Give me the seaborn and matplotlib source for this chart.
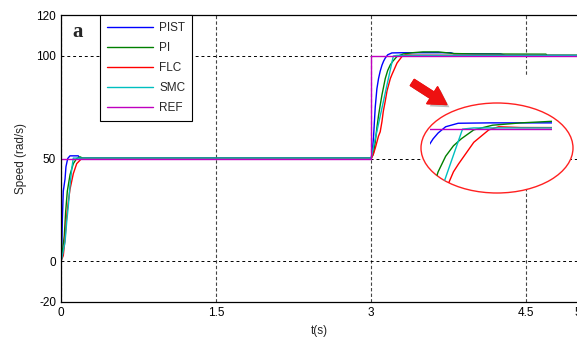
import matplotlib
matplotlib.use("Agg")
import matplotlib.pyplot as plt
import matplotlib.patches as mpatches
import matplotlib.patheffects as pe
from matplotlib.lines import Line2D
import numpy as np
import pandas as pd
import seaborn as sns

# ---------------- data ----------------
series_names = ["PIST", "PI", "FLC", "SMC", "REF"]

pist_t = [0, 0.007, 0.013, 0.022, 0.039, 0.048, 0.065, 0.087, 0.167, 0.18, 3.0,
          3.01, 3.022, 3.039, 3.055, 3.071, 3.087, 3.104, 3.12, 3.136, 3.16, 3.2,
          3.3, 3.77, 3.8, 4.25, 4.3, 5.0]
pist_v = [0, 5, 20, 34, 40, 46, 50, 51.3, 51.3, 50.2, 50.2,
          53, 60, 75, 84, 89, 92.6, 95.5, 97.5, 99, 100.6, 101.5,
          101.6, 101.6, 101.1, 101.0, 100.3, 100.2]

pi_t = [0, 0.013, 0.032, 0.045, 0.061, 0.087, 0.119, 0.152, 0.184, 0.21, 3.0,
        3.02, 3.039, 3.055, 3.071, 3.087, 3.104, 3.12, 3.136, 3.16, 3.185, 3.21,
        3.25, 3.31, 3.4, 3.5, 3.65, 3.8, 4.0, 4.69, 4.7, 5.0]
pi_v = [0, 4.4, 12.4, 24, 34, 42, 47.5, 50, 50.8, 50.2, 50.2,
        52, 58, 65, 71, 76, 81, 85, 89, 93, 95.7, 97.5,
        99.8, 101, 101.6, 102, 102, 101.2, 101.0, 100.9, 100.4, 100.4]

flc_t = [0, 0.022, 0.039, 0.055, 0.071, 0.087, 0.119, 0.152, 0.2, 3.0,
         3.02, 3.039, 3.071, 3.087, 3.104, 3.117, 3.136, 3.153, 3.185, 3.201,
         3.25, 3.298, 3.33, 3.4, 5.0]
flc_v = [0, 2.6, 10.8, 22, 29, 35, 42.6, 47.5, 50, 50,
         52, 55, 61, 63, 68, 73, 78, 83, 89, 91,
         96.6, 99.8, 100.6, 100.4, 100.2]

smc_t = [0, 0.007, 0.039, 0.055, 0.071, 0.087, 0.104, 0.119, 3.0,
         3.019, 3.214, 3.25, 5.0]
smc_v = [0, 1, 9.3, 19, 27, 37, 45, 50.2, 50.2,
         55, 100, 100.3, 100.3]

ref_t = [0, 3.0, 3.0, 5.0]
ref_v = [50, 50, 100, 100]

x_ticks = [0, 1.5, 3, 4.5, 5]
x_tick_labels = ["0", "1.5", "3", "4.5", "5"]
y_ticks = [-20, 0, 50, 100, 120]
y_tick_labels = ["-20", "0", "50", "100", "120"]

colors = {"PIST": (0, 0, 1), "PI": (0, 0.5, 0), "FLC": (1, 0, 0),
          "SMC": (0, 0.75, 0.75), "REF": (0.75, 0, 0.75)}

frames = []
for name, tt, vv in [("PIST", pist_t, pist_v), ("PI", pi_t, pi_v),
                     ("FLC", flc_t, flc_v), ("SMC", smc_t, smc_v),
                     ("REF", ref_t, ref_v)]:
    frames.append(pd.DataFrame({"t": tt, "v": vv, "series": name,
                                "order": np.arange(len(tt))}))
df = pd.concat(frames, ignore_index=True)

# ---------------- style ----------------
sns.set_theme(style="white")
plt.rcParams["font.family"] = ["Liberation Sans", "DejaVu Sans"]

W, H = 577, 338
fig = plt.figure(figsize=(W / 100, H / 100), dpi=100)


def fx(px):
    return px / W


def fy(py):
    return 1 - py / H


ax = fig.add_axes([fx(61), fy(302), fx(517), (302 - 15) / H])
sns.lineplot(data=df, x="t", y="v", hue="series", hue_order=series_names,
             palette=colors, estimator=None, sort=False, units="series",
             legend=False, ax=ax, linewidth=1.0)

ax.set_xlim(0, 5)
ax.set_ylim(-20, 120)
ax.set_xticks(x_ticks)
ax.set_xticklabels(x_tick_labels)
ax.set_yticks(y_ticks)
ax.set_yticklabels(y_tick_labels)
ax.tick_params(direction="in", length=3, width=0.6, labelsize=8.5,
               colors="black", pad=3.5)
ax.set_xlabel("t(s)", fontsize=8.5, labelpad=4.5)
ax.set_ylabel("Speed (rad/s)", fontsize=8.5, labelpad=7)
for s in ["left", "bottom", "top"]:
    ax.spines[s].set_color("black")
    ax.spines[s].set_linewidth(0.9)
ax.spines["right"].set_visible(False)
ax.yaxis.grid(True, color="black", linestyle=(0, (3, 3)), linewidth=0.7)
ax.xaxis.grid(True, color="#444444", linestyle=(0, (3, 2)), linewidth=0.8)
ax.set_axisbelow(True)

handles = [Line2D([0], [0], color=colors[n], lw=1.0) for n in series_names]
leg = ax.legend(handles, series_names, loc="upper left",
                bbox_to_anchor=(39 / 517, 1.0), borderaxespad=0,
                fontsize=8.5, handlelength=3.9, handletextpad=0.5,
                labelspacing=0.68, borderpad=0.6, frameon=True,
                fancybox=False, framealpha=1)
leg.get_frame().set_edgecolor("black")
leg.get_frame().set_linewidth(0.8)

ax.text(fx(78), fy(32), "a", transform=fig.transFigure, ha="center",
        va="center", fontsize=15, fontweight="bold",
        family=["Liberation Serif", "DejaVu Serif"])

# ---------------- zoom ellipse, inset, arrow ----------------
cover = mpatches.Rectangle((fx(500), fy(110)), fx(60), (110 - 76) / H,
                           transform=fig.transFigure, facecolor="white",
                           edgecolor="none", zorder=1)
fig.patches.append(cover)

ellipse = mpatches.Ellipse((fx(497), fy(148)), fx(152), 90 / H,
                           transform=fig.transFigure, facecolor="white",
                           edgecolor="#ff2020", linewidth=1.0, zorder=1.1)
fig.patches.append(ellipse)

axin = fig.add_axes([fx(430), fy(192), fx(122), 80 / H], zorder=2)
axin.set_facecolor("none")
sns.lineplot(data=df, x="t", y="v", hue="series", hue_order=series_names,
             palette=colors, estimator=None, sort=False, units="series",
             legend=False, ax=axin, linewidth=1.0)
axin.set_xlim(3.11, 3.5)
axin.set_ylim(83.8, 104.4)
axin.axis("off")
for ln in axin.get_lines():
    ln.set_clip_path(ellipse)

arrow = mpatches.FancyArrowPatch(
    (fx(410), fy(81)), (fx(449), fy(106)), transform=fig.transFigure,
    arrowstyle="simple,head_length=0.95,head_width=1.1,tail_width=0.4",
    mutation_scale=13, color="#ee1111", zorder=3,
    path_effects=[pe.withSimplePatchShadow(offset=(2, -2),
                                           shadow_rgbFace="gray", alpha=0.5),
                  pe.Normal()])
fig.patches.append(arrow)

fig.savefig("out.png", dpi=100)
